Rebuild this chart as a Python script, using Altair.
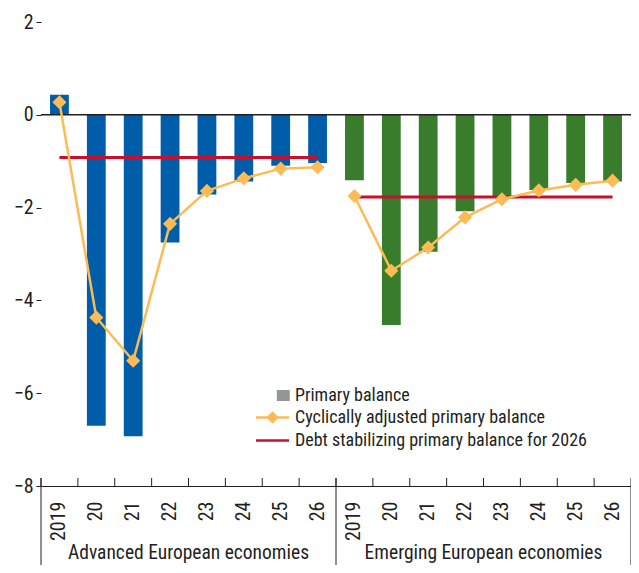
import altair as alt
import pandas as pd

years = ["2019", "20", "21", "22", "23", "24", "25", "26"]
groups = ["Advanced European economies", "Emerging European economies"]
group_keys = ["A", "E"]
adv_pb = [0.43, -6.70, -6.93, -2.75, -1.72, -1.44, -1.10, -1.04]
adv_capb = [0.27, -4.37, -5.30, -2.35, -1.64, -1.37, -1.16, -1.13]
adv_debt = -0.92
em_pb = [-1.41, -4.53, -2.95, -2.08, -1.76, -1.62, -1.47, -1.44]
em_capb = [-1.75, -3.36, -2.86, -2.21, -1.82, -1.63, -1.51, -1.42]
em_debt = -1.77
y_ticks = [-8, -6, -4, -2, 0, 2]
legend_names = ["Primary balance", "Cyclically adjusted primary balance",
                "Debt stabilizing primary balance for 2026"]

bar_colors = ["#005DAA", "#387C2C"]
legend_colors = ["#939598", "#FDBB55", "#C8102E"]
legend_shapes = [
    "M0.56,-0.42H1.6V0.42H0.56Z",
    "M-1.65,0H1.65M0,-0.46L0.46,0L0,0.46L-0.46,0Z",
    "M-1.65,0H1.65",
]

rows = []
for g, key, pb, capb, debt in zip(groups, group_keys, [adv_pb, em_pb],
                                   [adv_capb, em_capb], [adv_debt, em_debt]):
    for yr, p, c in zip(years, pb, capb):
        rows.append(dict(slot=key + yr, group=g, year=yr, pb=p, capb=c, debt=debt))
df = pd.DataFrame(rows)
slots = list(df["slot"])

W, H = 590, 464
font = "Liberation Sans Narrow, Arial Narrow, Roboto Condensed, Liberation Sans, sans-serif"
ink = "#231f20"

xscale = alt.Scale(domain=slots, paddingInner=0, paddingOuter=0)
xaxis = alt.Axis(title=None, labelExpr="substring(datum.value, 1)", labelAngle=-90,
                 ticks=False, domain=True, domainColor=ink, domainWidth=1,
                 labelPadding=15, labelFontSize=20, labelColor=ink, labelFont=font)
yscale = alt.Scale(domain=[-8, 2], nice=False, zero=False)
yaxis_left = alt.Axis(title=None, values=y_ticks, format="d", grid=False, domain=False,
                      tickSize=5, tickColor=ink, labelPadding=3, labelFontSize=20,
                      labelColor=ink, labelFont=font, orient="left")
yaxis_right = alt.Axis(title=None, values=y_ticks, grid=False, domain=False, labels=False,
                       tickSize=5, tickColor=ink, orient="right")


def X(**kw):
    return alt.X("slot:N", scale=xscale, sort=slots, axis=xaxis, **kw)


base = alt.Chart(df)

bars = base.mark_bar(width={"band": 0.51}).encode(
    x=X(),
    y=alt.Y("pb:Q", scale=yscale, axis=yaxis_left),
    color=alt.Color("group:N", scale=alt.Scale(domain=groups, range=bar_colors), legend=None),
)

zero = alt.Chart(pd.DataFrame({"v": [0]})).mark_rule(color=ink, strokeWidth=1.5).encode(
    y=alt.Y("v:Q", scale=yscale, axis=yaxis_right),
)

debt = base.mark_line(color="#C8102E", strokeWidth=3).encode(
    x=X(), y=alt.Y("debt:Q", scale=yscale, axis=None), detail="group:N",
)

capb = base.mark_line(color="#FDBB55", strokeWidth=2.5,
                      point=alt.OverlayMarkDef(shape="diamond", filled=True, size=200,
                                               color="#FDBB55")).encode(
    x=X(), y=alt.Y("capb:Q", scale=yscale, axis=None), detail="group:N",
)

ticks = base.mark_rule(color=ink, strokeWidth=1).encode(
    x=X(bandPosition=0), y=alt.value(H - 8), y2=alt.value(H),
)

sep_start = base.transform_filter(alt.datum.year == "2019").mark_rule(color=ink, strokeWidth=1).encode(
    x=X(bandPosition=0), y=alt.value(H - 8), y2=alt.value(H + 92),
)
sep_end = base.transform_filter(alt.datum.slot == slots[-1]).mark_rule(color=ink, strokeWidth=1).encode(
    x=X(bandPosition=1), y=alt.value(H - 8), y2=alt.value(H + 92),
)

glabels = base.transform_filter(alt.datum.year == "22").mark_text(
    align="center", baseline="alphabetic", fontSize=19.5, font=font, color=ink).encode(
    x=X(bandPosition=1), y=alt.value(H + 73), text="group:N",
)

leg = alt.Legend(title=None, orient="none", legendX=220, legendY=362, padding=0,
                 symbolSize=400, symbolStrokeWidth=2.5, symbolOpacity=1,
                 labelFontSize=18, labelFont=font, labelColor=ink, labelOffset=11,
                 labelLimit=500, rowPadding=1)
legend_layer = alt.Chart(pd.DataFrame({"series": legend_names})).mark_point(
    opacity=0, filled=True).encode(
    fill=alt.Fill("series:N", scale=alt.Scale(domain=legend_names, range=legend_colors), legend=leg),
    stroke=alt.Stroke("series:N", scale=alt.Scale(domain=legend_names, range=legend_colors), legend=leg),
    shape=alt.Shape("series:N", scale=alt.Scale(domain=legend_names, range=legend_shapes), legend=leg),
)

chart = alt.layer(bars, zero, debt, capb, ticks, sep_start, sep_end, glabels, legend_layer).resolve_axis(
    y="independent"
).properties(
    width=W, height=H,
    autosize=alt.AutoSizeParams(type="none"),
    padding={"left": 33, "top": 14, "right": 0, "bottom": 79},
).configure_view(stroke=None)

chart.save("out.html", embed_options={"renderer": "svg", "actions": False})
